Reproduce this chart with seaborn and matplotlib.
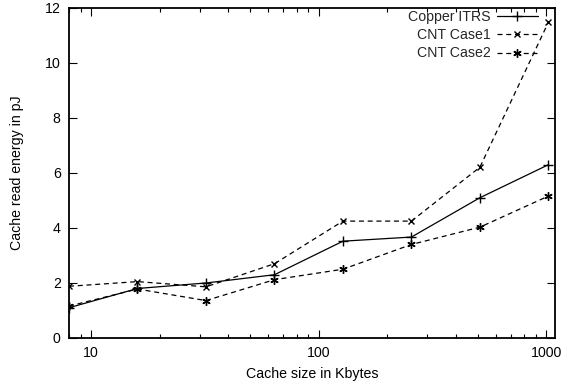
import matplotlib
matplotlib.use("Agg")
import matplotlib.pyplot as plt
import seaborn as sns
import numpy as np
from matplotlib.ticker import LogLocator, NullFormatter, FixedLocator

sns.set_theme(style="white")
plt.rcParams["font.family"] = ["Liberation Sans", "DejaVu Sans"]

# Cache sizes (Kbytes) and read energy (pJ)
cache_kb = [8, 16, 32, 64, 128, 256, 512, 1024]
copper_itrs = [1.10, 1.80, 2.00, 2.30, 3.52, 3.67, 5.10, 6.30]
cnt_case1 = [1.88, 2.05, 1.86, 2.70, 4.25, 4.25, 6.21, 11.48]
cnt_case2 = [1.16, 1.78, 1.36, 2.12, 2.50, 3.40, 4.03, 5.16]

series_names = ["Copper ITRS", "CNT Case1", "CNT Case2"]
series_values = [copper_itrs, cnt_case1, cnt_case2]
styles = [
    dict(linestyle="-", marker="+", markersize=7, mew=1.0),
    dict(linestyle=(0, (4, 3)), marker="x", markersize=5, mew=1.0),
    dict(linestyle=(0, (4, 3)), marker=(6, 2, 0), markersize=6, mew=1.0),
]

FS = 10.2

fig = plt.figure(figsize=(5.69, 3.86), dpi=100)
ax = fig.add_axes([0.1213, 0.1244, 0.8541, 0.8549])

for name, vals, st in zip(series_names, series_values, styles):
    sns.lineplot(x=cache_kb, y=vals, ax=ax, color="black", linewidth=0.9,
                 label=name, markeredgecolor="black", **st)

ax.set_xscale("log")
ax.set_xlim(8, 1095)
ax.set_ylim(0, 12)
ax.xaxis.set_major_locator(FixedLocator([10, 100, 1000]))
ax.set_xticklabels(["10", "100", "1000"])
ax.xaxis.set_minor_locator(LogLocator(base=10, subs=np.arange(2, 10)))
ax.xaxis.set_minor_formatter(NullFormatter())
ax.set_yticks(np.arange(0, 13, 2))

for s in ax.spines.values():
    s.set_color("black")
    s.set_linewidth(1.3)

ax.tick_params(which="both", direction="in", top=True, right=True,
               bottom=True, left=True, colors="black", labelsize=FS, width=0.8)
ax.tick_params(which="major", length=6, pad=6)
ax.tick_params(which="minor", length=3)

ax.set_xlabel("Cache size in Kbytes", fontsize=FS, color="black")
ax.set_ylabel("Cache read energy in pJ", fontsize=FS, color="black")
ax.xaxis.set_label_coords(0.5, -0.088)
ax.yaxis.set_label_coords(-0.092, 0.5)

leg = ax.legend(loc="upper right", bbox_to_anchor=(0.965, 0.994), frameon=False,
                markerfirst=False, fontsize=FS, handlelength=2.9,
                handletextpad=0.45, labelspacing=0.3, borderaxespad=0.0,
                borderpad=0.0)

fig.savefig("out.png", dpi=100)
